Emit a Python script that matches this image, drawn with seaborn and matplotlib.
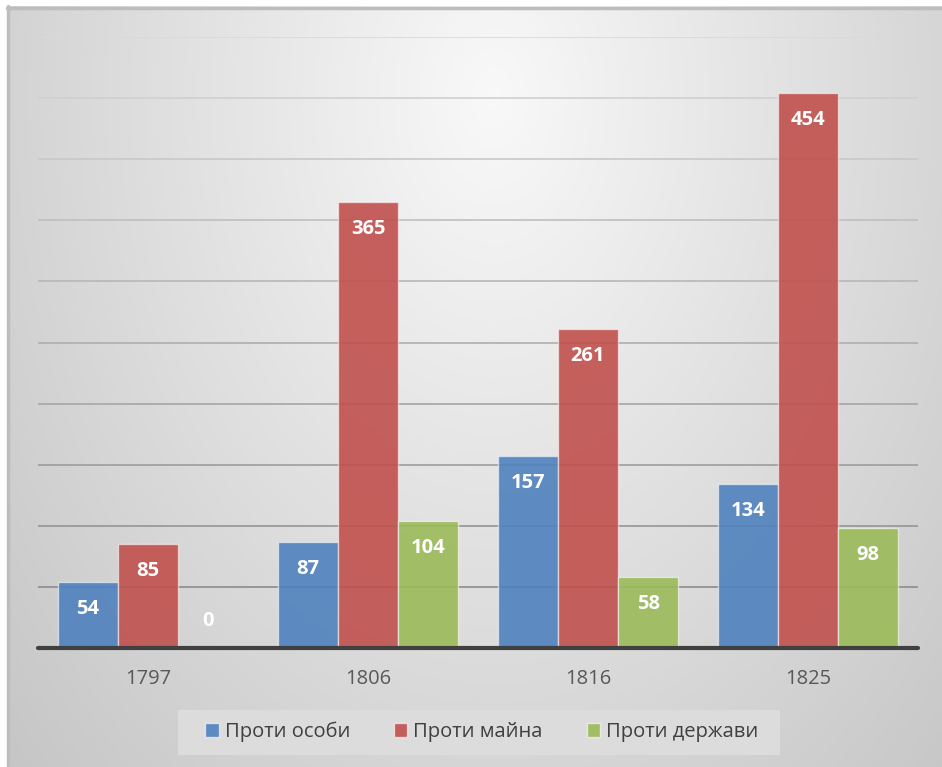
import numpy as np
import pandas as pd
import matplotlib
matplotlib.use('Agg')
import matplotlib.pyplot as plt
from matplotlib.colors import to_rgba
from matplotlib.patches import Rectangle
import seaborn as sns

# дані
years = ['1797', '1806', '1816', '1825']
series = ['Проти особи', 'Проти майна', 'Проти держави']
vs_person = [54, 87, 157, 134]
vs_property = [85, 365, 261, 454]
vs_state = [0, 104, 58, 98]
grid_ticks = [50, 100, 150, 200, 250, 300, 350, 400, 450, 500]

colors = ['#4F81BD', '#C0504D', '#9BBB59']

df = pd.DataFrame({
    'year': years * 3,
    'kind': [s for s in series for _ in years],
    'value': vs_person + vs_property + vs_state,
})

sns.set_theme(style='white')
plt.rcParams['font.family'] = ['Open Sans', 'DejaVu Sans']

W, H = 942, 767
fig = plt.figure(figsize=(W / 100, H / 100), dpi=100)
fig.patch.set_facecolor('white')

# фон з градієнтом
bg = fig.add_axes([7 / W, 0, (W - 7) / W, (H - 6) / H])
bg.set_zorder(-2)
yy, xx = np.mgrid[0:1:300j, 0:1:300j]
r = np.sqrt(((xx - 0.52) / 0.5) ** 2 + ((yy - 0.12) / 0.9) ** 2)
g = np.clip(0.975 - 0.14 * r, 0, 1)
bg.imshow(np.dstack([g, g, g]), extent=[0, 1, 1, 0], aspect='auto', interpolation='bilinear')
bg.set_xlim(0, 1)
bg.set_ylim(1, 0)
bg.axis('off')
bg.plot([0, 1], [0.002, 0.002], color='#bdbdbd', lw=2.5, clip_on=False)
bg.plot([0.001, 0.001], [0, 1], color='#bdbdbd', lw=2.5, clip_on=False)

# підкладка легенди
fig.patches.append(Rectangle((178 / W, 1 - 755 / H), 602 / W, 45 / H,
                             transform=fig.transFigure, facecolor='#dcdcdc',
                             edgecolor='none', zorder=0))

ax = fig.add_axes([38 / W, (H - 648) / H, 880 / W, 611 / H])
ax.set_facecolor('none')

sns.barplot(data=df, x='year', y='value', hue='kind', hue_order=series,
            palette=colors, saturation=1, width=0.82, ax=ax, zorder=3)

for cont, c in zip(ax.containers, colors):
    for p in cont.patches:
        p.set_facecolor(to_rgba(c, 0.9))
        p.set_edgecolor((1, 1, 1, 0.55))
        p.set_linewidth(1.0)

# лінії сітки, темніші донизу
for i, t in enumerate(grid_ticks):
    f = i / (len(grid_ticks) - 1)
    shade = 0.55 + 0.3 * f
    ax.axhline(t, color=(shade, shade, shade), lw=1.2, zorder=1)
ax.axhline(0, color='#404040', lw=3, zorder=4, clip_on=False)

# підписи значень
for cont in ax.containers:
    for p in cont.patches:
        v = p.get_height()
        off = -27 if v > 0 else 27
        ax.annotate(f'{v:.0f}', (p.get_x() + p.get_width() / 2, v),
                    xytext=(0, off), textcoords='offset pixels',
                    ha='center', va='center', color='white',
                    fontsize=14.5, fontweight='bold', zorder=5)

ax.set_xlim(-0.5, 3.5)
ax.set_ylim(0, 500)
ax.set_yticks([])
ax.set_xlabel('')
ax.set_ylabel('')
ax.tick_params(axis='x', length=0, pad=15, labelsize=14.5, labelcolor='#595959')
for s in ax.spines.values():
    s.set_visible(False)

ax.legend_.remove()
handles = [plt.Rectangle((0, 0), 1, 1, facecolor=to_rgba(c, 0.9), edgecolor=(1, 1, 1, 0.6))
           for c in colors]
leg = fig.legend(handles, series, loc='center', bbox_to_anchor=(482 / W, 1 - 732 / H),
                 ncol=3, frameon=False, fontsize=14.5,
                 handlelength=0.65, handleheight=0.65, handletextpad=0.3,
                 columnspacing=2.2, borderpad=0.5, borderaxespad=0)
for t in leg.get_texts():
    t.set_color('#404040')

fig.savefig('out.png', dpi=100)
